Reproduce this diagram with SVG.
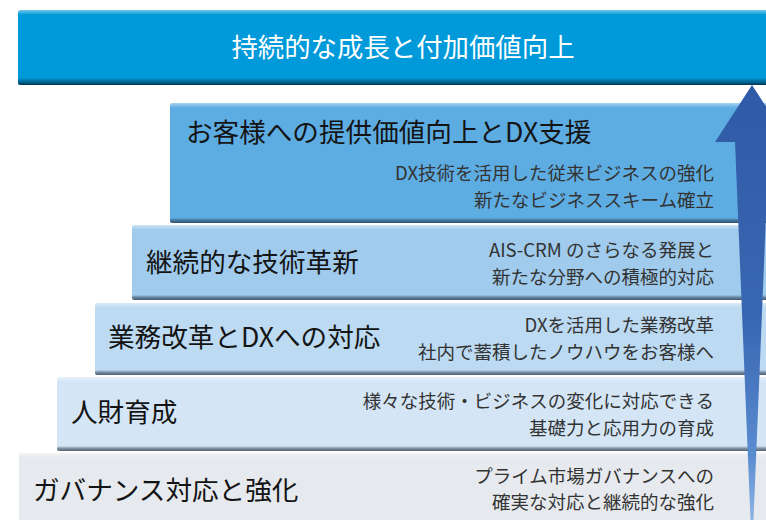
<svg xmlns="http://www.w3.org/2000/svg" width="766" height="520" viewBox="0 0 766 520">
  <style>
    .head { font-family: "Noto Sans CJK JP", "Noto Sans", sans-serif; font-size: 26.6px; fill: #141414; }
    .title { font-family: "Noto Sans CJK JP", "Noto Sans", sans-serif; font-size: 26.4px; fill: #ffffff; text-anchor: middle; }
    .sub { font-family: "Noto Sans CJK JP", "Noto Sans", sans-serif; font-size: 18.5px; fill: #333333; text-anchor: end; }
    .hl { fill: url(#hl); }
    .sh { fill: url(#sh); }
  </style>
  <defs>
    <linearGradient id="hl" x1="0" y1="0" x2="0" y2="1">
      <stop offset="0" stop-color="#ffffff" stop-opacity="0.45"/>
      <stop offset="1" stop-color="#ffffff" stop-opacity="0"/>
    </linearGradient>
    <linearGradient id="sh" x1="0" y1="0" x2="0" y2="1">
      <stop offset="0" stop-color="#000000" stop-opacity="0"/>
      <stop offset="0.5" stop-color="#1a2a3a" stop-opacity="0.45"/>
      <stop offset="1" stop-color="#1a2a3a" stop-opacity="0.7"/>
    </linearGradient>
    <linearGradient id="shTop" x1="0" y1="0" x2="0" y2="1">
      <stop offset="0" stop-color="#00405f" stop-opacity="0"/>
      <stop offset="0.5" stop-color="#005a85" stop-opacity="0.7"/>
      <stop offset="1" stop-color="#002c45" stop-opacity="0.95"/>
    </linearGradient>
    <linearGradient id="arrowGrad" x1="0" y1="85" x2="0" y2="520" gradientUnits="userSpaceOnUse">
      <stop offset="0" stop-color="#2f5ba6"/>
      <stop offset="0.55" stop-color="#3a67b2"/>
      <stop offset="0.85" stop-color="#5a8cd0"/>
      <stop offset="1" stop-color="#8fb5e6"/>
    </linearGradient>
  </defs>

  <rect x="0" y="0" width="766" height="520" fill="#ffffff"/>

  <g id="goal">
    <rect x="18" y="10" width="770" height="75" rx="3" fill="#0099d9"/>
    <rect x="18" y="10" width="770" height="5" rx="3" class="hl"/>
    <rect x="18" y="78" width="770" height="7" rx="2" fill="url(#shTop)"/>
    <text class="title" x="403" y="56.5">持続的な成長と付加価値向上</text>
  </g>

  <g id="tier-dx-support">
    <rect x="170" y="103" width="620" height="120" rx="3" fill="#5eade2"/>
    <rect x="170" y="103" width="620" height="5" rx="3" class="hl"/>
    <rect x="170" y="218" width="620" height="5" rx="2" class="sh"/>
    <text class="head" x="186" y="141.5">お客様への提供価値向上とDX支援</text>
    <text class="sub" x="714" y="180">DX技術を活用した従来ビジネスの強化</text>
    <text class="sub" x="714" y="206.5">新たなビジネススキーム確立</text>
  </g>

  <g id="tier-tech-innovation">
    <rect x="132" y="225" width="660" height="75" rx="3" fill="#a0cbec"/>
    <rect x="132" y="225" width="660" height="5" rx="3" class="hl"/>
    <rect x="132" y="295" width="660" height="5" rx="2" class="sh"/>
    <text class="head" x="146" y="271.5">継続的な技術革新</text>
    <text class="sub" x="714" y="256.5">AIS-CRM のさらなる発展と</text>
    <text class="sub" x="714" y="283.5">新たな分野への積極的対応</text>
  </g>

  <g id="tier-business-reform">
    <rect x="95" y="303" width="700" height="72" rx="3" fill="#bcdaf2"/>
    <rect x="95" y="303" width="700" height="5" rx="3" class="hl"/>
    <rect x="95" y="370" width="700" height="5" rx="2" class="sh"/>
    <text class="head" x="108" y="346.5">業務改革とDXへの対応</text>
    <text class="sub" x="714" y="331.5">DXを活用した業務改革</text>
    <text class="sub" x="714" y="358.5">社内で蓄積したノウハウをお客様へ</text>
  </g>

  <g id="tier-talent">
    <rect x="57" y="377" width="740" height="74" rx="3" fill="#d4e6f6"/>
    <rect x="57" y="377" width="740" height="5" rx="3" class="hl"/>
    <rect x="57" y="446" width="740" height="5" rx="2" class="sh"/>
    <text class="head" x="71" y="422">人財育成</text>
    <text class="sub" x="714" y="407.5">様々な技術・ビジネスの変化に対応できる</text>
    <text class="sub" x="714" y="434.5">基礎力と応用力の育成</text>
  </g>

  <g id="tier-governance">
    <rect x="19" y="453" width="780" height="80" rx="3" fill="#e6eaee"/>
    <rect x="19" y="453" width="780" height="5" rx="3" class="hl"/>
    <text class="head" x="33" y="499.5">ガバナンス対応と強化</text>
    <text class="sub" x="714" y="482.5">プライム市場ガバナンスへの</text>
    <text class="sub" x="714" y="508.5">確実な対応と継続的な強化</text>
  </g>

  <g id="connectors">
    <path id="growth-arrow" d="M752,85 L789,142 L769,142 L753.5,520 L750.5,520 L735,142 L715,142 Z" fill="url(#arrowGrad)"/>
  </g>
</svg>
